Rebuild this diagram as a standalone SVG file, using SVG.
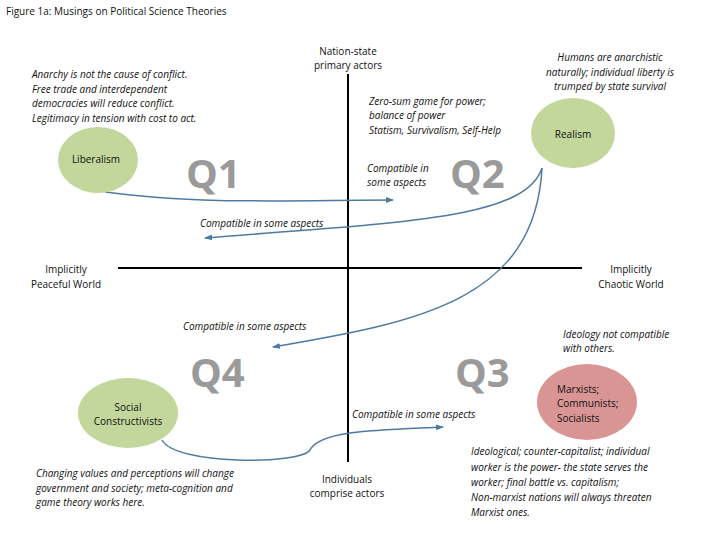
<svg xmlns="http://www.w3.org/2000/svg" width="720" height="540" viewBox="0 0 720 540">
<style>
text{font-family:"Open Sans","Liberation Sans",sans-serif;font-size:10px;fill:#111}
.i{font-style:italic}
.q{font-size:40px;font-weight:bold;fill:#9a9a9a}
.c{stroke:#4f7aa0;stroke-width:1.5;fill:none;marker-end:url(#a)}
.g{fill:#c3d69b}
</style>
<defs><marker id="a" markerWidth="8" markerHeight="6" refX="7" refY="3" orient="auto" markerUnits="userSpaceOnUse"><path d="M0,0L8,3L0,6z" fill="#4f7aa0"/></marker></defs>
<rect width="720" height="540" fill="#fff"/>
<text x="6" y="15" style="font-size:10px">Figure 1a: Musings on Political Science Theories</text>
<g id="axes" stroke="#000" stroke-width="2"><line x1="118" y1="268" x2="582" y2="268"/><line x1="348" y1="74" x2="348" y2="462"/></g>
<g id="connectors">
<path class="c" d="M105,192 C200,205 300,200 393,200"/>
<path class="c" d="M542,168 C525,220 400,222 205,238"/>
<path class="c" d="M542,168 C535,300 420,322 273,347"/>
<path class="c" d="M162,440 C175,465 300,465 310,450 C320,430 380,430 443,427"/>
</g>
<g id="labels">
<text x="348" y="55" text-anchor="middle">Nation-state</text><text x="348" y="69" text-anchor="middle">primary actors</text>
<text class="i" x="32" y="78">Anarchy is not the cause of conflict.</text>
<text class="i" x="32" y="93">Free trade and interdependent</text>
<text class="i" x="32" y="107">democracies will reduce conflict.</text>
<text class="i" x="32" y="122">Legitimacy in tension with cost to act.</text>
<text class="i" x="610" y="61" text-anchor="middle">Humans are anarchistic</text>
<text class="i" x="610" y="76" text-anchor="middle">naturally; individual liberty is</text>
<text class="i" x="610" y="90" text-anchor="middle">trumped by state survival</text>
<text class="i" x="369" y="105">Zero-sum game for power;</text>
<text class="i" x="369" y="119">balance of power</text>
<text class="i" x="369" y="134">Statism, Survivalism, Self-Help</text>
<text class="i" x="367" y="172">Compatible in</text><text class="i" x="367" y="186">some aspects</text>
<text class="i" x="200" y="227">Compatible in some aspects</text>
<text x="66" y="273" text-anchor="middle">Implicitly</text><text x="66" y="288" text-anchor="middle">Peaceful World</text>
<text x="631" y="273" text-anchor="middle">Implicitly</text><text x="631" y="288" text-anchor="middle">Chaotic World</text>
<text class="i" x="183" y="330">Compatible in some aspects</text>
<text class="i" x="563" y="338">Ideology not compatible</text><text class="i" x="563" y="352">with others.</text>
<text class="i" x="352" y="418">Compatible in some aspects</text>
<text class="i" x="36" y="477">Changing values and perceptions will change</text>
<text class="i" x="36" y="492">government and society; meta-cognition and</text>
<text class="i" x="36" y="506">game theory works here.</text>
<text x="347" y="483" text-anchor="middle">Individuals</text><text x="347" y="497" text-anchor="middle">comprise actors</text>
<text class="i" x="471" y="455">Ideological; counter-capitalist; individual</text>
<text class="i" x="471" y="471">worker is the power- the state serves the</text>
<text class="i" x="471" y="486">worker; final battle vs. capitalism;</text>
<text class="i" x="471" y="501">Non-marxist nations will always threaten</text>
<text class="i" x="471" y="516">Marxist ones.</text>
<text class="q" x="186" y="188">Q1</text><text class="q" x="450" y="188">Q2</text>
<text class="q" x="190" y="387">Q4</text><text class="q" x="455" y="387">Q3</text>
</g>
<g id="liberalism"><ellipse class="g" cx="98" cy="160" rx="40" ry="33"/><text x="96" y="163" text-anchor="middle">Liberalism</text></g>
<g id="realism"><ellipse class="g" cx="573" cy="133" rx="42" ry="35"/><text x="573" y="138" text-anchor="middle">Realism</text></g>
<g id="social"><ellipse class="g" cx="128" cy="413" rx="50" ry="35"/><text x="128" y="411" text-anchor="middle">Social</text><text x="128" y="425" text-anchor="middle">Constructivists</text></g>
<g id="marxists"><ellipse cx="587" cy="402" rx="50" ry="38" fill="#d99594"/><text x="557" y="393">Marxists;</text><text x="557" y="407">Communists;</text><text x="557" y="422">Socialists</text></g>
</svg>
